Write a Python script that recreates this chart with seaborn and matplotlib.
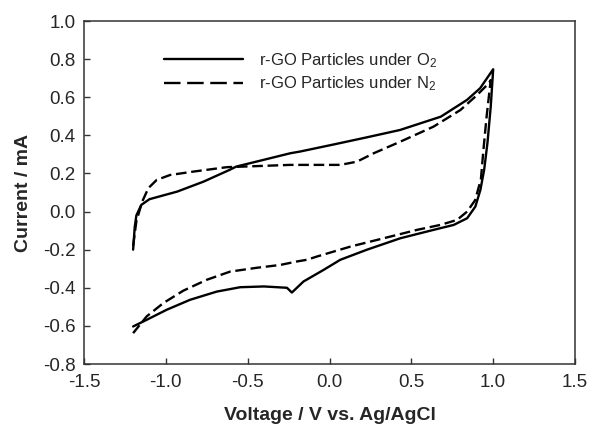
import numpy as np
import pandas as pd
import matplotlib
matplotlib.use("Agg")
import matplotlib.pyplot as plt
from matplotlib.lines import Line2D
from matplotlib.ticker import FormatStrFormatter
import seaborn as sns

# ---- data ----
o2_voltage = [-1.20, -1.19, -1.18, -1.15, -1.10, -0.93, -0.77, -0.61, -0.57, -0.40, -0.24, -0.18,
              0.03, 0.23, 0.43, 0.68, 0.84, 0.92, 1.00,
              0.985, 0.965, 0.945, 0.922, 0.891, 0.841, 0.759, 0.636, 0.433, 0.229, 0.066,
              -0.036, -0.159, -0.23, -0.26, -0.40, -0.546, -0.689, -0.852, -0.994, -1.117, -1.20]
o2_current = [-0.20, -0.08, -0.02, 0.035, 0.065, 0.105, 0.157, 0.219, 0.236, 0.272, 0.306, 0.315,
              0.353, 0.39, 0.428, 0.498, 0.586, 0.647, 0.747,
              0.55, 0.36, 0.22, 0.114, 0.026, -0.035, -0.070, -0.096, -0.14, -0.20, -0.253,
              -0.306, -0.367, -0.425, -0.40, -0.393, -0.397, -0.42, -0.463, -0.515, -0.568, -0.603]

n2_voltage = [-1.20, -1.18, -1.144, -1.107, -1.056, -0.974, -0.83, -0.627, -0.40, -0.24, -0.05,
              0.066, 0.168, 0.27, 0.433, 0.636, 0.80, 0.902, 0.973, 0.985,
              0.96, 0.94, 0.925, 0.89, 0.841, 0.779, 0.677, 0.535, 0.331, 0.127, -0.077,
              -0.138, -0.20, -0.30, -0.444, -0.607, -0.75, -0.893, -1.015, -1.117, -1.20]
n2_current = [-0.18, -0.05, 0.053, 0.123, 0.166, 0.192, 0.21, 0.233, 0.24, 0.245, 0.245,
              0.245, 0.262, 0.306, 0.367, 0.446, 0.533, 0.612, 0.673, 0.69,
              0.50, 0.32, 0.17, 0.06, 0.0, -0.044, -0.07, -0.096, -0.14, -0.184, -0.236,
              -0.253, -0.262, -0.28, -0.295, -0.315, -0.358, -0.415, -0.48, -0.55, -0.638]

series_labels = ["r-GO Particles under O$_2$", "r-GO Particles under N$_2$"]
x_ticks = [-1.5, -1.0, -0.5, 0.0, 0.5, 1.0, 1.5]
y_ticks = [-0.8, -0.6, -0.4, -0.2, 0.0, 0.2, 0.4, 0.6, 0.8, 1.0]

df_o2 = pd.DataFrame({"Voltage": o2_voltage, "Current": o2_current})
df_n2 = pd.DataFrame({"Voltage": n2_voltage, "Current": n2_current})

sns.set_style("ticks")
plt.rcParams["font.family"] = ["Liberation Sans", "DejaVu Sans"]
plt.rcParams["axes.unicode_minus"] = False
plt.rcParams["mathtext.fontset"] = "custom"
plt.rcParams["mathtext.rm"] = "Liberation Sans"
plt.rcParams["mathtext.it"] = "Liberation Sans:italic"

fig = plt.figure(figsize=(5.9, 4.29), dpi=100)
ax = fig.add_axes([0.1424, 0.1515, 0.8322, 0.7995])

sns.lineplot(data=df_o2, x="Voltage", y="Current", sort=False, estimator=None,
             color="black", linewidth=1.7, ax=ax)
sns.lineplot(data=df_n2, x="Voltage", y="Current", sort=False, estimator=None,
             color="black", linewidth=1.7, ax=ax)
ax.lines[1].set_dashes([4.5, 2.0])

ax.set_xlim(-1.5, 1.5)
ax.set_ylim(-0.8, 1.0)
ax.set_xticks(x_ticks)
ax.set_yticks(y_ticks)
ax.xaxis.set_major_formatter(FormatStrFormatter("%.1f"))
ax.yaxis.set_major_formatter(FormatStrFormatter("%.1f"))
ax.tick_params(direction="in", length=4, width=1, labelsize=13.5, color="#333333",
               top=False, right=False)
ax.tick_params(axis="x", pad=7)
ax.tick_params(axis="y", pad=6)
for s in ax.spines.values():
    s.set_visible(True)
    s.set_linewidth(1.1)
    s.set_color("#333333")

ax.set_xlabel("Voltage / V vs. Ag/AgCl", fontsize=14, fontweight="bold", labelpad=12)
ax.set_ylabel("Current / mA", fontsize=14, fontweight="bold", labelpad=8)

handles = [Line2D([], [], color="black", lw=1.7),
           Line2D([], [], color="black", lw=1.7, dashes=[7, 2.8])]
leg = ax.legend(handles, series_labels, loc="upper left", bbox_to_anchor=(0.15, 0.932),
                frameon=False, fontsize=12, handlelength=4.7, handletextpad=1.0,
                labelspacing=0.3, borderaxespad=0)

fig.savefig("out.png", dpi=100, facecolor="white")
